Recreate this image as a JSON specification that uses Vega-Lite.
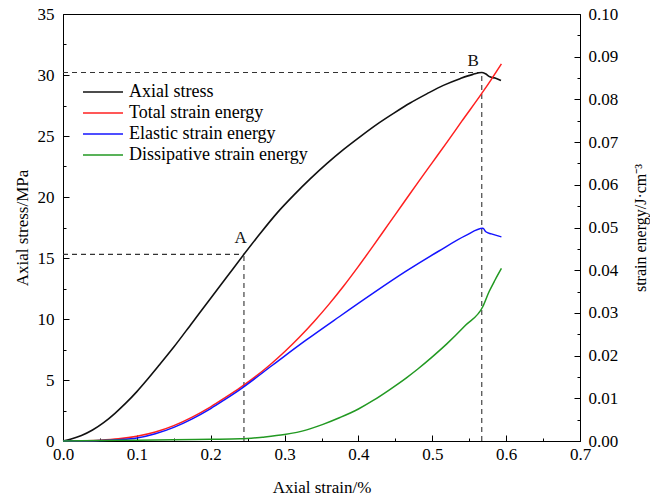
{
  "$schema": "https://vega.github.io/schema/vega-lite/v6.json",
  "width": 517,
  "height": 427,
  "autosize": {"type": "none"},
  "padding": {"left": 63, "top": 14, "right": 70, "bottom": 59},
  "config": {
    "font": "Liberation Serif",
    "view": {"stroke": "black", "strokeWidth": 1},
    "axis": {
      "grid": false,
      "domainColor": "black",
      "domainWidth": 1,
      "tickColor": "black",
      "tickWidth": 1,
      "labelColor": "black",
      "labelFont": "Liberation Serif",
      "labelFontSize": 17,
      "titleColor": "black",
      "titleFont": "Liberation Serif",
      "titleFontSize": 17,
      "titleFontWeight": "normal"
    },
    "legend": {
      "orient": "none",
      "legendX": 31,
      "legendY": 69,
      "title": null,
      "padding": 0,
      "symbolType": "M-2.5,0H2.5",
      "symbolSize": 256,
      "symbolStrokeWidth": 1.5,
      "labelFont": "Liberation Serif",
      "labelFontSize": 18,
      "labelColor": "black",
      "labelOffset": 17,
      "labelLimit": 400,
      "rowPadding": 3
    }
  },
  "datasets": {
    "stress": [
      {"series": "Axial stress", "strain": 0, "stress": 0},
      {"series": "Axial stress", "strain": 0.01, "stress": 0.15},
      {"series": "Axial stress", "strain": 0.025, "stress": 0.45},
      {"series": "Axial stress", "strain": 0.04, "stress": 0.9},
      {"series": "Axial stress", "strain": 0.055, "stress": 1.5},
      {"series": "Axial stress", "strain": 0.07, "stress": 2.25},
      {"series": "Axial stress", "strain": 0.085, "stress": 3.1},
      {"series": "Axial stress", "strain": 0.1, "stress": 4.05},
      {"series": "Axial stress", "strain": 0.115, "stress": 5.1},
      {"series": "Axial stress", "strain": 0.13, "stress": 6.2},
      {"series": "Axial stress", "strain": 0.15, "stress": 7.7},
      {"series": "Axial stress", "strain": 0.175, "stress": 9.7},
      {"series": "Axial stress", "strain": 0.2, "stress": 11.7},
      {"series": "Axial stress", "strain": 0.2225, "stress": 13.5},
      {"series": "Axial stress", "strain": 0.245, "stress": 15.3},
      {"series": "Axial stress", "strain": 0.2675, "stress": 17.05},
      {"series": "Axial stress", "strain": 0.29, "stress": 18.7},
      {"series": "Axial stress", "strain": 0.3125, "stress": 20.15},
      {"series": "Axial stress", "strain": 0.335, "stress": 21.5},
      {"series": "Axial stress", "strain": 0.3575, "stress": 22.75},
      {"series": "Axial stress", "strain": 0.38, "stress": 23.9},
      {"series": "Axial stress", "strain": 0.4025, "stress": 24.95},
      {"series": "Axial stress", "strain": 0.425, "stress": 25.95},
      {"series": "Axial stress", "strain": 0.4475, "stress": 26.85},
      {"series": "Axial stress", "strain": 0.47, "stress": 27.7},
      {"series": "Axial stress", "strain": 0.4925, "stress": 28.45},
      {"series": "Axial stress", "strain": 0.515, "stress": 29.15},
      {"series": "Axial stress", "strain": 0.5375, "stress": 29.7},
      {"series": "Axial stress", "strain": 0.555, "stress": 30.05},
      {"series": "Axial stress", "strain": 0.567, "stress": 30.2},
      {"series": "Axial stress", "strain": 0.572, "stress": 30.1},
      {"series": "Axial stress", "strain": 0.578, "stress": 29.85},
      {"series": "Axial stress", "strain": 0.585, "stress": 29.75},
      {"series": "Axial stress", "strain": 0.593, "stress": 29.55}
    ],
    "energy": [
      {"series": "Total strain energy", "strain": 0, "energy": 0},
      {"series": "Total strain energy", "strain": 0.025, "energy": 0.00005},
      {"series": "Total strain energy", "strain": 0.05, "energy": 0.0002},
      {"series": "Total strain energy", "strain": 0.075, "energy": 0.0005},
      {"series": "Total strain energy", "strain": 0.1, "energy": 0.0011},
      {"series": "Total strain energy", "strain": 0.125, "energy": 0.0021},
      {"series": "Total strain energy", "strain": 0.15, "energy": 0.0036},
      {"series": "Total strain energy", "strain": 0.175, "energy": 0.0056},
      {"series": "Total strain energy", "strain": 0.2, "energy": 0.008},
      {"series": "Total strain energy", "strain": 0.22, "energy": 0.0102},
      {"series": "Total strain energy", "strain": 0.24, "energy": 0.0125},
      {"series": "Total strain energy", "strain": 0.26, "energy": 0.015},
      {"series": "Total strain energy", "strain": 0.28, "energy": 0.0178},
      {"series": "Total strain energy", "strain": 0.3, "energy": 0.0209},
      {"series": "Total strain energy", "strain": 0.32, "energy": 0.0243},
      {"series": "Total strain energy", "strain": 0.34, "energy": 0.028},
      {"series": "Total strain energy", "strain": 0.36, "energy": 0.032},
      {"series": "Total strain energy", "strain": 0.38, "energy": 0.0363},
      {"series": "Total strain energy", "strain": 0.4, "energy": 0.0409},
      {"series": "Total strain energy", "strain": 0.42, "energy": 0.0457},
      {"series": "Total strain energy", "strain": 0.44, "energy": 0.0506},
      {"series": "Total strain energy", "strain": 0.46, "energy": 0.0555},
      {"series": "Total strain energy", "strain": 0.48, "energy": 0.0604},
      {"series": "Total strain energy", "strain": 0.5, "energy": 0.0652},
      {"series": "Total strain energy", "strain": 0.52, "energy": 0.07},
      {"series": "Total strain energy", "strain": 0.54, "energy": 0.0749},
      {"series": "Total strain energy", "strain": 0.567, "energy": 0.0814},
      {"series": "Total strain energy", "strain": 0.58, "energy": 0.0847},
      {"series": "Total strain energy", "strain": 0.5936, "energy": 0.0883},
      {"series": "Elastic strain energy", "strain": 0, "energy": 0},
      {"series": "Elastic strain energy", "strain": 0.05, "energy": 0.0001},
      {"series": "Elastic strain energy", "strain": 0.075, "energy": 0.0003},
      {"series": "Elastic strain energy", "strain": 0.1, "energy": 0.0007},
      {"series": "Elastic strain energy", "strain": 0.125, "energy": 0.0017},
      {"series": "Elastic strain energy", "strain": 0.15, "energy": 0.0032},
      {"series": "Elastic strain energy", "strain": 0.175, "energy": 0.0052},
      {"series": "Elastic strain energy", "strain": 0.2, "energy": 0.0076},
      {"series": "Elastic strain energy", "strain": 0.22, "energy": 0.0098},
      {"series": "Elastic strain energy", "strain": 0.24, "energy": 0.0121},
      {"series": "Elastic strain energy", "strain": 0.284, "energy": 0.0178},
      {"series": "Elastic strain energy", "strain": 0.329, "energy": 0.0236},
      {"series": "Elastic strain energy", "strain": 0.374, "energy": 0.0291},
      {"series": "Elastic strain energy", "strain": 0.419, "energy": 0.0345},
      {"series": "Elastic strain energy", "strain": 0.464, "energy": 0.0397},
      {"series": "Elastic strain energy", "strain": 0.509, "energy": 0.0445},
      {"series": "Elastic strain energy", "strain": 0.545, "energy": 0.0481},
      {"series": "Elastic strain energy", "strain": 0.5685, "energy": 0.0498},
      {"series": "Elastic strain energy", "strain": 0.5725, "energy": 0.049},
      {"series": "Elastic strain energy", "strain": 0.58, "energy": 0.0485},
      {"series": "Elastic strain energy", "strain": 0.5936, "energy": 0.0478},
      {"series": "Dissipative strain energy", "strain": 0, "energy": 0},
      {"series": "Dissipative strain energy", "strain": 0.05, "energy": 0.0001},
      {"series": "Dissipative strain energy", "strain": 0.1, "energy": 0.0002},
      {"series": "Dissipative strain energy", "strain": 0.15, "energy": 0.0003},
      {"series": "Dissipative strain energy", "strain": 0.2, "energy": 0.0004},
      {"series": "Dissipative strain energy", "strain": 0.24, "energy": 0.0005},
      {"series": "Dissipative strain energy", "strain": 0.27, "energy": 0.0009},
      {"series": "Dissipative strain energy", "strain": 0.3, "energy": 0.0015},
      {"series": "Dissipative strain energy", "strain": 0.33, "energy": 0.0026},
      {"series": "Dissipative strain energy", "strain": 0.352, "energy": 0.0039},
      {"series": "Dissipative strain energy", "strain": 0.375, "energy": 0.0055},
      {"series": "Dissipative strain energy", "strain": 0.4, "energy": 0.0075},
      {"series": "Dissipative strain energy", "strain": 0.42, "energy": 0.0095},
      {"series": "Dissipative strain energy", "strain": 0.442, "energy": 0.012},
      {"series": "Dissipative strain energy", "strain": 0.465, "energy": 0.0148},
      {"series": "Dissipative strain energy", "strain": 0.48, "energy": 0.0168},
      {"series": "Dissipative strain energy", "strain": 0.5, "energy": 0.0197},
      {"series": "Dissipative strain energy", "strain": 0.52, "energy": 0.0228},
      {"series": "Dissipative strain energy", "strain": 0.545, "energy": 0.0271},
      {"series": "Dissipative strain energy", "strain": 0.5685, "energy": 0.0315},
      {"series": "Dissipative strain energy", "strain": 0.577, "energy": 0.035},
      {"series": "Dissipative strain energy", "strain": 0.585, "energy": 0.0377},
      {"series": "Dissipative strain energy", "strain": 0.5936, "energy": 0.0404}
    ],
    "guides": [
      {"strain": 0, "strain_end": 0.245, "stress": 15.3, "stress_end": 15.3},
      {"strain": 0.245, "strain_end": 0.245, "stress": 0, "stress_end": 15.3},
      {"strain": 0, "strain_end": 0.567, "stress": 30.2, "stress_end": 30.2},
      {"strain": 0.567, "strain_end": 0.567, "stress": 0, "stress_end": 30.2}
    ],
    "points": [
      {"label": "A", "strain": 0.2405, "stress": 16.2},
      {"label": "B", "strain": 0.5554, "stress": 30.7}
    ]
  },
  "encoding": {
    "x": {
      "field": "strain",
      "type": "quantitative",
      "scale": {"domain": [0, 0.7], "nice": false, "zero": false},
      "axis": {
        "title": "Axial strain/%",
        "values": [0, 0.05, 0.1, 0.15, 0.2, 0.25, 0.3, 0.35, 0.4, 0.45, 0.5, 0.55, 0.6, 0.65, 0.7],
        "format": ".1f",
        "labelExpr": "round(datum.value * 100) % 10 === 0 ? datum.label : ''",
        "tickSize": {"condition": {"test": "round(datum.value * 100) % 10 === 0", "value": -6}, "value": -3},
        "labelPadding": 11,
        "labelFlush": false,
        "labelOverlap": false,
        "titleY": 51,
        "titleBaseline": "alphabetic"
      }
    },
    "color": {
      "field": "series",
      "type": "nominal",
      "scale": {
        "domain": ["Axial stress", "Total strain energy", "Elastic strain energy", "Dissipative strain energy"],
        "range": ["#111111", "#ff2020", "#1414ff", "#229922"]
      }
    }
  },
  "layer": [
    {
      "encoding": {
        "y": {
          "field": "stress",
          "type": "quantitative",
          "scale": {"domain": [0, 35], "nice": false},
          "axis": {
            "orient": "left",
            "title": "Axial stress/MPa",
            "values": [0, 2.5, 5, 7.5, 10, 12.5, 15, 17.5, 20, 22.5, 25, 27.5, 30, 32.5, 35],
            "labelExpr": "datum.value % 5 === 0 ? datum.label : ''",
            "tickSize": {"condition": {"test": "datum.value % 5 === 0", "value": -6}, "value": -3},
            "labelPadding": 15,
            "labelFlush": false,
            "labelOverlap": false,
            "titleAngle": 270,
            "titleX": -41,
            "titleY": 213.5,
            "titleAlign": "center",
            "titleBaseline": "middle"
          }
        }
      },
      "layer": [
        {
          "data": {"name": "guides"},
          "mark": {"type": "rule", "strokeDash": [5, 4], "strokeWidth": 1.1},
          "encoding": {
            "x2": {"field": "strain_end"},
            "y2": {"field": "stress_end"},
            "color": {"value": "#333333"}
          }
        },
        {
          "data": {"name": "stress"},
          "mark": {"type": "line", "strokeWidth": 1.6, "interpolate": "monotone"}
        },
        {
          "data": {"name": "points"},
          "mark": {"type": "text", "font": "Liberation Serif", "fontSize": 17, "align": "center", "baseline": "alphabetic"},
          "encoding": {
            "text": {"field": "label"},
            "color": {"value": "#111111"}
          }
        }
      ]
    },
    {
      "data": {"name": "energy"},
      "mark": {"type": "line", "strokeWidth": 1.5, "interpolate": "monotone"},
      "encoding": {
        "y": {
          "field": "energy",
          "type": "quantitative",
          "scale": {"domain": [0, 0.1], "nice": false},
          "axis": {
            "orient": "right",
            "title": "strain energy/J·cm⁻³",
            "values": [0, 0.005, 0.01, 0.015, 0.02, 0.025, 0.03, 0.035, 0.04, 0.045, 0.05, 0.055, 0.06, 0.065, 0.07, 0.075, 0.08, 0.085, 0.09, 0.095, 0.1],
            "format": ".2f",
            "labelExpr": "round(datum.value * 1000) % 10 === 0 ? datum.label : ''",
            "tickSize": {"condition": {"test": "round(datum.value * 1000) % 10 === 0", "value": -6}, "value": -3},
            "labelPadding": 14,
            "labelFlush": false,
            "labelOverlap": false,
            "titleAngle": 270,
            "titleX": 60,
            "titleY": 213.5,
            "titleAlign": "center",
            "titleBaseline": "middle",
            "titleFontSize": 16
          }
        }
      }
    }
  ],
  "resolve": {"scale": {"y": "independent"}}
}
